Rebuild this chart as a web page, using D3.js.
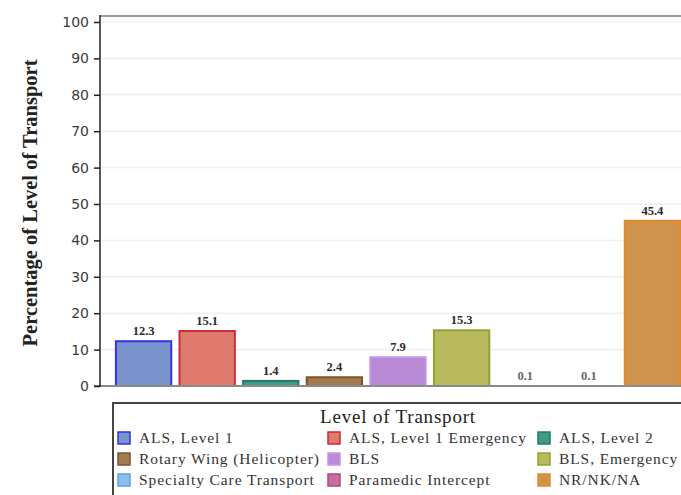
<!DOCTYPE html>
<html>
<head>
<meta charset="utf-8">
<script src="https://cdn.jsdelivr.net/npm/d3@7"></script>
<style>
  body { margin: 0; background: #fff; }
  svg { display: block; }
</style>
</head>
<body>
<div id="chart"></div>
<script>
// categories and values
var categories = ["ALS, Level 1", "ALS, Level 1 Emergency", "ALS, Level 2",
    "Rotary Wing (Helicopter)", "BLS", "BLS, Emergency",
    "Specialty Care Transport", "Paramedic Intercept", "NR/NK/NA"];
var values = [12.3, 15.1, 1.4, 2.4, 7.9, 15.3, 0.1, 0.1, 45.4];
var labels = ["12.3", "15.1", "1.4", "2.4", "7.9", "15.3", "0.1", "0.1", "45.4"];
var yTicks = [0, 10, 20, 30, 40, 50, 60, 70, 80, 90, 100];

var fills = ["#7b93cd", "#e07a6c", "#3e9a8b", "#a37a4d", "#b98ad5", "#b9b95d", "#8dbde9", "#c86d9c", "#cf934d"];
var strokes = ["#3333e6", "#cc2a3a", "#237a6c", "#7c5430", "#c892ee", "#93a234", "#5ea2e0", "#b04482", "#e08b2c"];

var W = 681, H = 495;
var svg = d3.select("#chart").append("svg")
    .attr("width", W)
    .attr("height", H);

var xScale = d3.scaleBand()
    .domain(categories)
    .range([100, 696])
    .paddingInner(0.13)
    .paddingOuter(0.25);

var yScale = d3.scaleLinear()
    .domain([0, 100])
    .range([386, 22]);

/*  grid lines  */
svg.append("g").selectAll("line")
    .data(yTicks.filter(function (d) { return d > 0; }))
    .enter().append("line")
    .attr("x1", 101).attr("x2", W)
    .attr("y1", function (d) { return yScale(d); })
    .attr("y2", function (d) { return yScale(d); })
    .attr("stroke", "#efefef")
    .attr("stroke-width", 1.5);

/*  top frame  */
svg.append("line")
    .attr("x1", 100).attr("x2", W)
    .attr("y1", 16).attr("y2", 16)
    .attr("stroke", "#9a9a9a")
    .attr("stroke-width", 2);

/*  bars  */
svg.append("g").selectAll("rect")
    .data(values)
    .enter().append("rect")
    .attr("x", function (d, i) { return xScale(categories[i]); })
    .attr("width", xScale.bandwidth())
    .attr("y", function (d) { return yScale(d); })
    .attr("height", function (d) { return yScale(0) - yScale(d); })
    .attr("fill", function (d, i) { return fills[i]; })
    .attr("stroke", function (d, i) {
        return (yScale(0) - yScale(d)) < 1 ? "none" : strokes[i];
    })
    .attr("stroke-width", 2);

/*  value labels  */
svg.append("g").selectAll("text")
    .data(values)
    .enter().append("text")
    .attr("x", function (d, i) { return xScale(categories[i]) + xScale.bandwidth() / 2; })
    .attr("y", function (d) { return yScale(d) - 6; })
    .attr("text-anchor", "middle")
    .style("font-family", "'Liberation Serif', serif")
    .style("font-weight", "bold")
    .style("font-size", "12.5px")
    .style("fill", function (d) { return d < 1 ? "#666" : "#2a2a2a"; })
    .text(function (d, i) { return labels[i]; });

/*  x baseline  */
svg.append("line")
    .attr("x1", 94).attr("x2", W)
    .attr("y1", yScale(0)).attr("y2", yScale(0))
    .attr("stroke", "#8a8a8a")
    .attr("stroke-width", 2);

/*  y axis  */
var yAxis = svg.append("g")
    .attr("transform", "translate(100,0)")
    .call(d3.axisLeft(yScale).tickValues(yTicks).tickSize(6).tickPadding(5));
yAxis.select(".domain").remove();
yAxis.append("line")
    .attr("x1", 0).attr("x2", 0)
    .attr("y1", 15).attr("y2", yScale(0) + 1)
    .attr("stroke", "#222")
    .attr("stroke-width", 1.5);
yAxis.selectAll(".tick line").attr("stroke", "#222").attr("stroke-width", 1.5);
yAxis.selectAll(".tick text")
    .style("font-family", "'DejaVu Sans', sans-serif")
    .style("font-size", "14px")
    .style("fill", "#3a3a3a");

svg.append("text")
    .attr("transform", "translate(37,203) rotate(-90)")
    .attr("text-anchor", "middle")
    .style("font-family", "'Liberation Serif', serif")
    .style("font-weight", "bold")
    .style("font-size", "20.5px")
    .style("fill", "#222")
    .text("Percentage of Level of Transport");

/*  legend  */
var legend = svg.append("g");
legend.append("rect")
    .attr("x", 113).attr("y", 403)
    .attr("width", 600).attr("height", 120)
    .attr("fill", "#fff")
    .attr("stroke", "#444")
    .attr("stroke-width", 2);
legend.append("text")
    .attr("x", 398).attr("y", 423)
    .attr("text-anchor", "middle")
    .style("font-family", "'Liberation Serif', serif")
    .style("font-size", "19px")
    .style("letter-spacing", "0.8px")
    .style("fill", "#222")
    .text("Level of Transport");

var colX = [118, 328, 538];
var rowY = [438, 459, 480];
var item = legend.selectAll(".item")
    .data(categories)
    .enter().append("g")
    .attr("class", "item")
    .attr("transform", function (d, i) {
        return "translate(" + colX[i % 3] + "," + rowY[Math.floor(i / 3)] + ")";
    });
item.append("rect")
    .attr("x", 0).attr("y", -6)
    .attr("width", 12).attr("height", 12)
    .attr("fill", function (d, i) { return fills[i]; })
    .attr("stroke", function (d, i) { return strokes[i]; })
    .attr("stroke-width", 1.5);
item.append("text")
    .attr("x", 21).attr("y", 5)
    .style("font-family", "'Liberation Serif', serif")
    .style("font-size", "15.5px")
    .style("letter-spacing", "0.9px")
    .style("fill", "#333")
    .text(function (d) { return d; });
</script>
</body>
</html>
